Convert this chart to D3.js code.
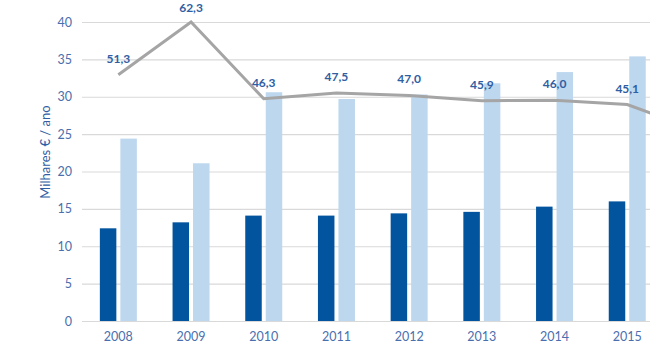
<!DOCTYPE html>
<html>
<script src="https://d3js.org/d3.v7.min.js"></script>
<style>
  body {margin:0; background:#fff;}
  text {font-family: Lato, "Open Sans", sans-serif;}
</style>
<body>
<svg width=650 height=354></svg>
<script>
    // data
    const years = ["2008", "2009", "2010", "2011", "2012", "2013", "2014", "2015", "2016"];
    const darkValues = [12.4, 13.2, 14.1, 14.1, 14.4, 14.6, 15.3, 16.0];
    const lightValues = [24.4, 21.1, 30.6, 29.7, 30.3, 31.8, 33.3, 35.4];
    const lineValues = [51.3, 62.3, 46.3, 47.5, 47.0, 45.9, 46.0, 45.1, 39.6];
    const yTicks = [0, 5, 10, 15, 20, 25, 30, 35, 40];

    const svg = d3.select("svg");
    const W = 650;
    const plotLeft = 82, plotTop = 22, plotBottom = 321;
    const step = 72.7;

    // 2016 sits past the right edge (the picture is cropped there)
    const x = d3.scaleBand()
            .domain(years)
            .range([plotLeft, plotLeft + step * years.length]);
    const cx = yr => x(yr) + x.bandwidth() / 2;
    const shown = years.filter(yr => cx(yr) < W - 15);

    const x1 = d3.scaleBand()
            .domain(["dark", "light"])
            .range([0, 37])
            .paddingInner(0.195);
    const off = x.bandwidth() / 2 - 18.5;

    const y = d3.scaleLinear().domain([0, 40]).range([plotBottom, plotTop]);
    const y2 = d3.scaleLinear().domain([0, d3.max(lineValues)]).range([plotBottom, plotTop]);

    const fmt = v => d3.format(".1f")(v).replace(".", ",");

    // grid
    const yAxis = d3.axisLeft(y)
            .tickValues(yTicks)
            .tickSize(-(W - plotLeft))
            .tickPadding(10);
    const gy = svg.append("g")
            .attr("transform", `translate(${plotLeft},0)`)
            .call(yAxis);
    gy.select(".domain").remove();
    gy.selectAll(".tick line").attr("stroke", "#d9d9d9").attr("stroke-width", 1.2);
    gy.selectAll(".tick text")
            .attr("fill", "#4a6fae")
            .style("font-size", "12.5px");

    const xAxis = d3.axisBottom(x).tickValues(shown).tickSize(0).tickPadding(11);
    const gx = svg.append("g")
            .attr("transform", `translate(0,${plotBottom})`)
            .call(xAxis);
    gx.select(".domain").remove();
    gx.selectAll(".tick text")
            .attr("fill", "#4a6fae")
            .style("font-size", "12.5px");

    // bars
    svg.append("g").selectAll("rect")
            .data(darkValues)
            .join("rect")
            .attr("x", (d, i) => x(years[i]) + off + x1("dark"))
            .attr("width", x1.bandwidth())
            .attr("y", d => y(d))
            .attr("height", d => y(0) - y(d))
            .attr("fill", "#03549e");

    svg.append("g").selectAll("rect")
            .data(lightValues)
            .join("rect")
            .attr("x", (d, i) => x(years[i]) + off + x1("light"))
            .attr("width", x1.bandwidth())
            .attr("y", d => y(d))
            .attr("height", d => y(0) - y(d))
            .attr("fill", "#bdd7ee");

    // line
    const line = d3.line()
            .x((d, i) => cx(years[i]))
            .y(d => y2(d));
    svg.append("path")
            .datum(lineValues)
            .attr("d", line)
            .attr("fill", "none")
            .attr("stroke", "#a5a5a5")
            .attr("stroke-width", 3);

    svg.append("g").selectAll("text")
            .data(lineValues.slice(0, shown.length))
            .join("text")
            .attr("x", (d, i) => cx(years[i]))
            .attr("y", d => Math.max(y2(d) - 12, 11.5))
            .attr("text-anchor", "middle")
            .attr("fill", "#2f5ea3")
            .style("font-size", "12px")
            .style("font-weight", "bold")
            .text(d => fmt(d));

    // axis title
    svg.append("text")
            .attr("transform", "translate(50,152) rotate(-90)")
            .attr("text-anchor", "middle")
            .attr("fill", "#2f5ea3")
            .style("font-size", "13px")
            .text("Milhares € / ano");
</script>
</body>
</html>
